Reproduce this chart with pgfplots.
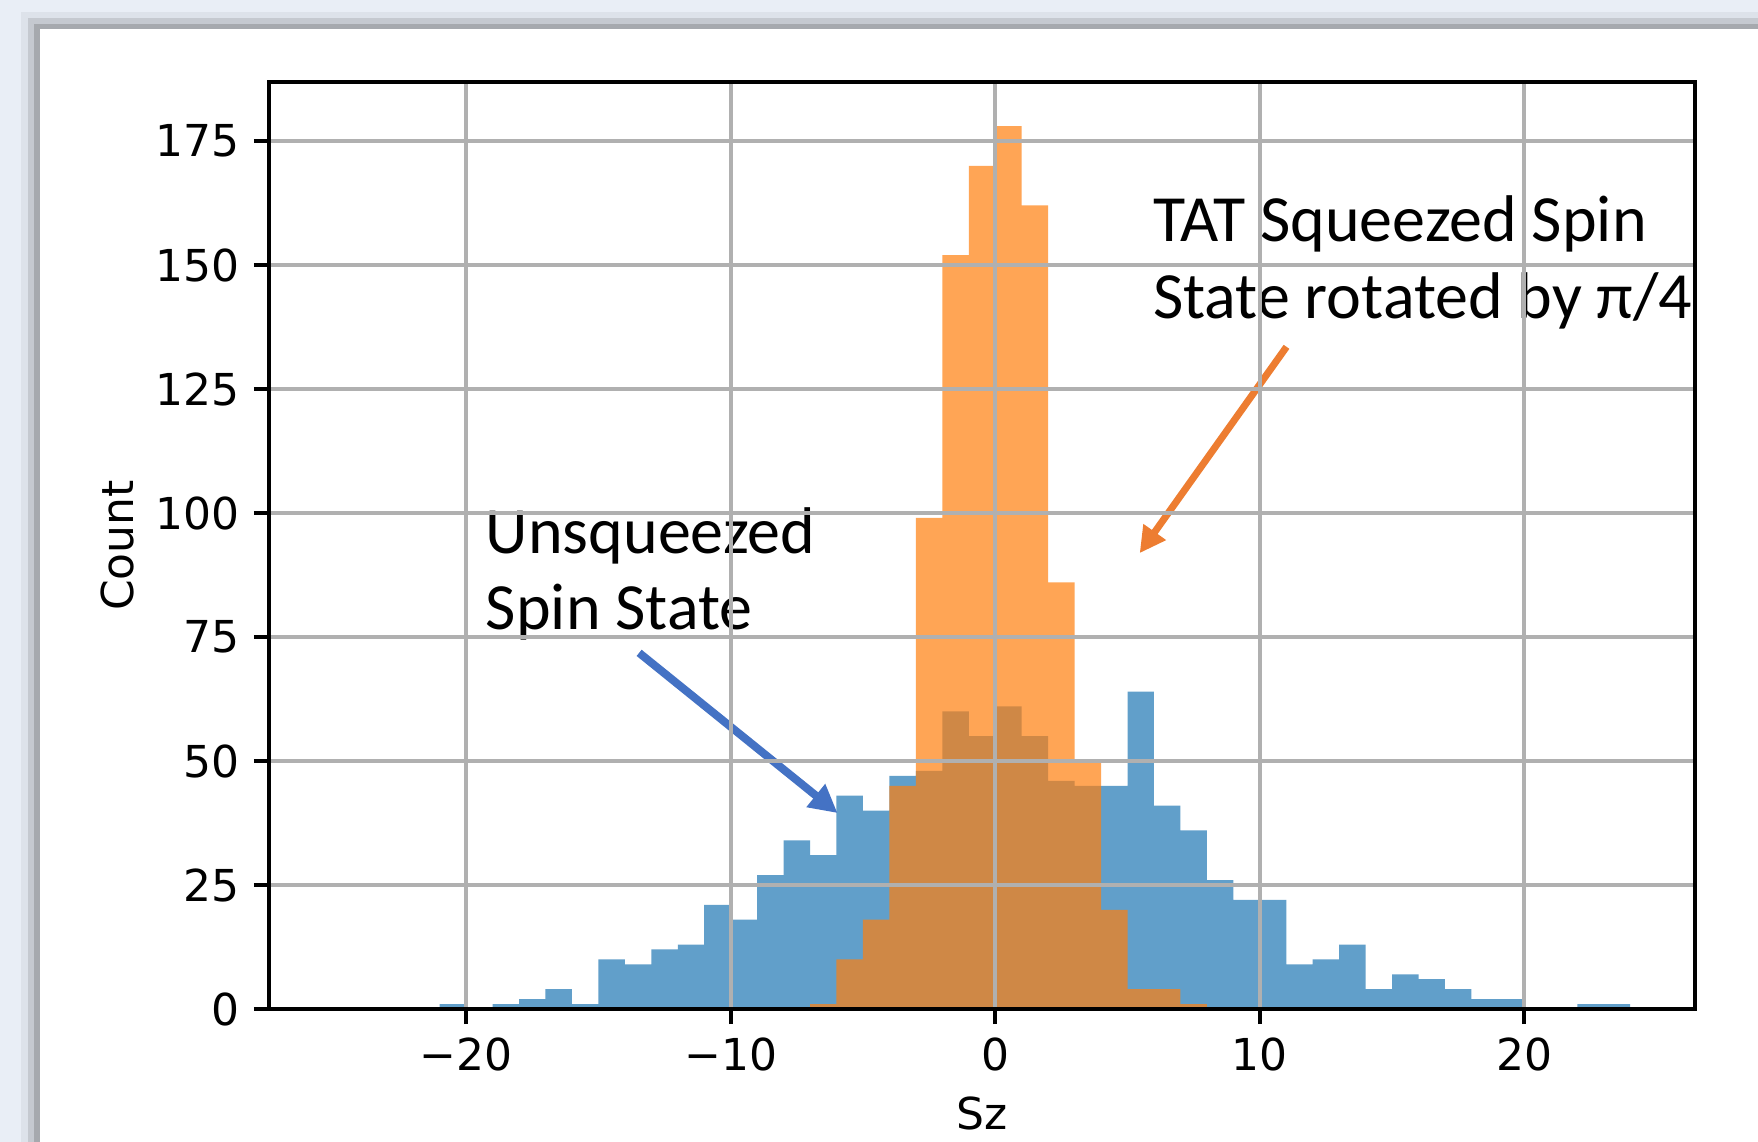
\documentclass[border=0pt]{standalone}
\usepackage{fontspec}
\setmainfont{DejaVu Sans}
\newfontfamily\carlito{Carlito}
\usepackage{pgfplots}
\pgfplotsset{compat=1.18}
\usetikzlibrary{arrows.meta}
\definecolor{mplblue}{RGB}{31,119,180}
\definecolor{mplorange}{RGB}{255,127,14}
\definecolor{annblue}{RGB}{68,114,196}
\definecolor{annorange}{RGB}{237,125,49}
\definecolor{bgout}{RGB}{233,238,246}
\definecolor{sh1}{RGB}{221,226,234}
\definecolor{sh2}{RGB}{197,201,208}
\definecolor{sh3}{RGB}{166,169,174}
\definecolor{gridc}{RGB}{176,176,176}
\begin{document}
\begin{tikzpicture}
\useasboundingbox (0,0) rectangle (439.5pt,285.5pt);
\fill[bgout] (0,0) rectangle (439.5pt,285.5pt);
\fill[sh1] (5.25pt,0) rectangle (439.5pt,282.5pt);
\fill[sh2] (7pt,0) rectangle (439.5pt,281pt);
\fill[sh3] (8.5pt,0) rectangle (439.5pt,279.5pt);
\fill[white] (10pt,0) rectangle (439.5pt,278.25pt);
\begin{axis}[
  at={(67.25pt,33.25pt)}, anchor=south west,
  scale only axis, width=356.5pt, height=231.75pt,
  xmin=-27.45, xmax=26.45, ymin=0, ymax=186.9,
  xtick={-20,-10,0,10,20},
  xticklabels={−20,−10,0,10,20},
  ytick={0,25,50,75,100,125,150,175},
  yticklabels={0,25,50,75,100,125,150,175},
  tick label style={font=\fontsize{11pt}{13pt}\selectfont},
  tick align=outside, tick pos=left,
  major tick length=3.8pt,
  every tick/.style={black, line width=1pt},
  axis line style={black, line width=1pt},
  grid=major,
  major grid style={gridc, line width=1pt},
  axis on top,
  xlabel={Sz}, ylabel={Count},
  label style={font=\fontsize{11pt}{13pt}\selectfont},
  xlabel style={at={(axis description cs:0.5,-0.1305)}, anchor=base},
  ylabel style={at={(axis description cs:-0.0951,0.5)}, anchor=base},
  clip=false,
]
\addplot[ybar interval, fill=mplblue, fill opacity=0.7, draw=none] table {
x y
-21 1
-20 0
-19 1
-18 2
-17 4
-16 1
-15 10
-14 9
-13 12
-12 13
-11 21
-10 18
-9 27
-8 34
-7 31
-6 43
-5 40
-4 47
-3 48
-2 60
-1 55
0 61
1 55
2 46
3 45
4 45
5 64
6 41
7 36
8 26
9 22
10 22
11 9
12 10
13 13
14 4
15 7
16 6
17 4
18 2
19 2
20 0
21 0
22 1
23 1
24 0
};
\addplot[ybar interval, fill=mplorange, fill opacity=0.7, draw=none] table {
x y
-7 1
-6 10
-5 18
-4 45
-3 99
-2 152
-1 170
0 178
1 162
2 86
3 50
4 20
5 4
6 4
7 1
8 0
};
\node[anchor=base west, inner sep=0, font=\carlito\fontsize{16.5pt}{19pt}\selectfont] at (axis cs:5.94,154.7) {TAT Squeezed Spin};
\node[anchor=base west, inner sep=0, font=\carlito\fontsize{16.5pt}{19pt}\selectfont] at (axis cs:5.94,139.2) {State rotated by π/4};
\node[anchor=base west, inner sep=0, font=\carlito\fontsize{16.5pt}{19pt}\selectfont] at (axis cs:-19.28,91.9) {Unsqueezed};
\node[anchor=base west, inner sep=0, font=\carlito\fontsize{16.5pt}{19pt}\selectfont] at (axis cs:-19.28,76.6) {Spin State};
\draw[annblue, line width=2pt, -{Triangle[length=7pt,width=7pt]}] (axis cs:-13.46,71.8) -- (axis cs:-5.96,39.5);
\draw[annorange, line width=1.75pt, -{Triangle[length=6.5pt,width=6.5pt]}] (axis cs:11.01,133.5) -- (axis cs:5.46,91.9);
\end{axis}
\end{tikzpicture}
\end{document}
